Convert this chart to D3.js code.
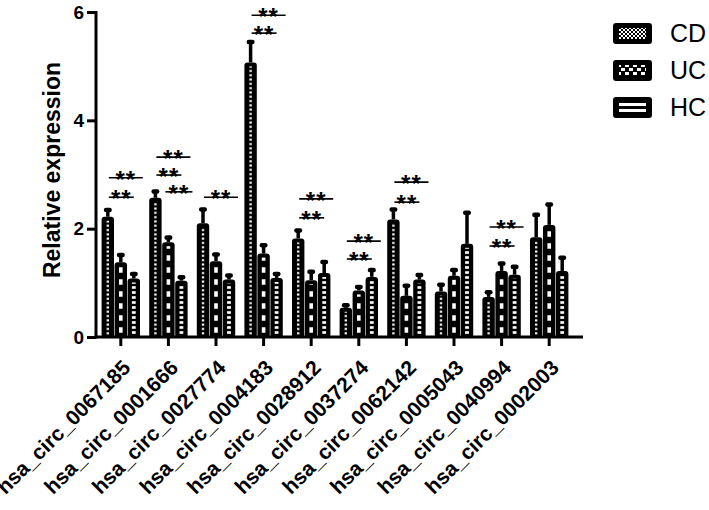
<!DOCTYPE html>
<html><head><meta charset="utf-8">
<script src="https://cdn.jsdelivr.net/npm/d3@7"></script>
<style>
body{margin:0;background:#fff;}
svg{display:block;font-family:"Liberation Sans",Arial,sans-serif;}
</style></head>
<body><svg id="c" width="709" height="510"></svg>
<script>
const categories = ["hsa_circ_0067185","hsa_circ_0001666","hsa_circ_0027774","hsa_circ_0004183","hsa_circ_0028912","hsa_circ_0037274","hsa_circ_0062142","hsa_circ_0005043","hsa_circ_0040994","hsa_circ_0002003"];
const seriesNames = ["CD","UC","HC"];
const cdMean = [2.22, 2.57, 2.10, 5.07, 1.82, 0.54, 2.17, 0.84, 0.74, 1.84];
const cdErr  = [0.13, 0.12, 0.26, 0.38, 0.15, 0.05, 0.19, 0.13, 0.09, 0.42];
const ucMean = [1.38, 1.75, 1.40, 1.54, 1.05, 0.86, 0.76, 1.13, 1.22, 2.07];
const ucErr  = [0.14, 0.09, 0.13, 0.16, 0.16, 0.07, 0.19, 0.11, 0.14, 0.38];
const hcMean = [1.08, 1.04, 1.06, 1.09, 1.18, 1.11, 1.06, 1.72, 1.15, 1.22];
const hcErr  = [0.09, 0.07, 0.08, 0.08, 0.21, 0.13, 0.09, 0.58, 0.15, 0.25];
const yTicks = [0, 2, 4, 6];
// significance annotations: group index, bracket level (data units), bracket kind
const sigGroup = [0, 0, 1, 1, 1, 2, 3, 3, 4, 4, 5, 5, 6, 6, 8, 8];
const sigLevel = [2.94, 2.58, 3.32, 2.99, 2.68, 2.58, 5.94, 5.61, 2.55, 2.20, 1.77, 1.44, 2.86, 2.49, 2.03, 1.68];
const sigKind  = ["long","short","long","short","right","long","long","short","long","short","long","short","long","short","long","short"];
const sigText  = "**";

const svg = d3.select("#c");
const defs = svg.append("defs");
// bar fill patterns (white marks on black)
function stripePattern(id, period, h) {
  const p = defs.append("pattern").attr("id", id).attr("patternUnits","userSpaceOnUse")
    .attr("width", 200).attr("height", period).attr("y", 0);
  p.append("rect").attr("width",200).attr("height",period).attr("fill","#000");
  p.append("rect").attr("y",(period-h)/2).attr("width",200).attr("height",h).attr("fill","#fff");
}
stripePattern("pCD", 4.3, 2);
stripePattern("pUC", 12, 5.5);
stripePattern("pHC", 5, 2.6);
// legend patterns
const lCD = defs.append("pattern").attr("id","lCD").attr("patternUnits","userSpaceOnUse").attr("width",4).attr("height",4);
lCD.append("rect").attr("width",4).attr("height",4).attr("fill","#000");
lCD.append("rect").attr("width",2).attr("height",2).attr("fill","#fff");
lCD.append("rect").attr("x",2).attr("y",2).attr("width",2).attr("height",2).attr("fill","#fff");
const lUC = defs.append("pattern").attr("id","lUC").attr("patternUnits","userSpaceOnUse").attr("width",8).attr("height",8);
lUC.append("rect").attr("width",8).attr("height",8).attr("fill","#000");
lUC.append("rect").attr("width",4).attr("height",3).attr("fill","#fff");
lUC.append("rect").attr("x",4).attr("y",4).attr("width",4).attr("height",3).attr("fill","#fff");

const x = d3.scaleBand().domain(categories).range([97, 573]).padding(0);
const sub = d3.scaleBand().domain(seriesNames).range([-19.5, 19.5]).padding(0);
const y = d3.scaleLinear().domain([0, 6]).range([337, 12]);
const cx = c => x(c) + x.bandwidth()/2;

const means = {CD: cdMean, UC: ucMean, HC: hcMean};
const errs = {CD: cdErr, UC: ucErr, HC: hcErr};
const innerW = {CD: 2.4, UC: 3.6, HC: 3.8};
const rows = [];
categories.forEach((c, i) => seriesNames.forEach(s => rows.push({c, s, v: means[s][i], e: errs[s][i]})));

const g = svg.append("g");
// error bars
rows.forEach(d => {
  const xc = cx(d.c) + sub(d.s) + sub.bandwidth()/2;
  g.append("line").attr("x1", xc).attr("x2", xc).attr("y1", y(d.v)).attr("y2", y(d.v + d.e))
    .attr("stroke","#000").attr("stroke-width",3.5);
  g.append("rect").attr("x", xc-4).attr("y", y(d.v + d.e)-2).attr("width",8).attr("height",4.5)
    .attr("rx",2.2).attr("fill","#000");
});
// bars
rows.forEach(d => {
  const x0 = cx(d.c) + sub(d.s);
  const w = sub.bandwidth();
  const top = y(d.v);
  g.append("rect").attr("x", x0+0.3).attr("y", top).attr("width", w-0.6).attr("height", y(0) - top + 1)
    .attr("rx", 3).attr("fill","#000");
  const iw = innerW[d.s];
  if (y(0) - (top+4) > 2)
    g.append("rect").attr("x", x0 + w/2 - iw/2).attr("y", top+4).attr("width", iw).attr("height", y(0) - (top+4) - 1)
      .attr("fill", "url(#p" + d.s + ")");
});

// axes
const yAxis = svg.append("g").attr("transform","translate(96,0)")
  .call(d3.axisLeft(y).tickValues(yTicks).tickSize(9).tickPadding(3).tickFormat(d3.format("d")));
yAxis.select(".domain").attr("stroke-width",3).attr("d","M0,"+(y(6)-1)+"V"+(y(0)+1.5));
yAxis.selectAll(".tick line").attr("stroke-width",3);
yAxis.selectAll(".tick text").attr("font-size",19).attr("font-weight","bold").attr("fill","#000")
  .attr("font-family","Liberation Sans, Arial, sans-serif");

const xAxis = svg.append("g").attr("transform","translate(0,337)")
  .call(d3.axisBottom(x).tickSize(9).tickSizeOuter(0));
xAxis.select(".domain").remove();
xAxis.selectAll(".tick line").attr("stroke-width",3);
xAxis.selectAll(".tick text").attr("font-size",21).attr("font-weight","bold").attr("fill","#000")
  .attr("font-family","Liberation Sans, Arial, sans-serif")
  .attr("text-anchor","end").attr("dy",null).attr("y",null)
  .attr("transform","translate(11,32) rotate(-45)");
svg.append("line").attr("x1",94.5).attr("x2",583).attr("y1",337).attr("y2",337)
  .attr("stroke","#000").attr("stroke-width",3);

// y title
svg.append("text").attr("transform","translate(60,170) rotate(-90)").attr("text-anchor","middle")
  .attr("font-size",23).attr("font-weight","bold").text("Relative expression");

// significance
const kindOff = {long: [-12, 22], short: [-12, 13], right: [-3, 24]};
sigGroup.forEach((gi, k) => {
  const c = cx(categories[gi]);
  const [a, b] = kindOff[sigKind[k]];
  const ly = y(sigLevel[k]);
  svg.append("line").attr("x1", c+a).attr("x2", c+b).attr("y1", ly).attr("y2", ly)
    .attr("stroke","#000").attr("stroke-width",1.6);
  svg.append("text").attr("x", c + (a+b)/2).attr("y", ly + 10).attr("text-anchor","middle")
    .attr("font-size",24).attr("font-weight","bold").attr("letter-spacing",1).text(sigText);
});

// legend
const legendFill = {CD: "url(#lCD)", UC: "url(#lUC)", HC: null};
seriesNames.forEach((s, i) => {
  const ly = 23 + i*37;
  const lg = svg.append("g").attr("transform", `translate(613,${ly})`);
  lg.append("rect").attr("width",39).attr("height",21).attr("rx",3).attr("fill","#000");
  if (legendFill[s]) {
    lg.append("rect").attr("x",6).attr("y",5).attr("width",27).attr("height",11).attr("fill",legendFill[s]);
  } else {
    lg.append("rect").attr("x",6).attr("y",6).attr("width",27).attr("height",3).attr("fill","#fff");
    lg.append("rect").attr("x",6).attr("y",12).attr("width",27).attr("height",3).attr("fill","#fff");
  }
  lg.append("text").attr("x",57).attr("y",19).attr("font-size",25).attr("fill","#000").text(s);
});
</script></body></html>
